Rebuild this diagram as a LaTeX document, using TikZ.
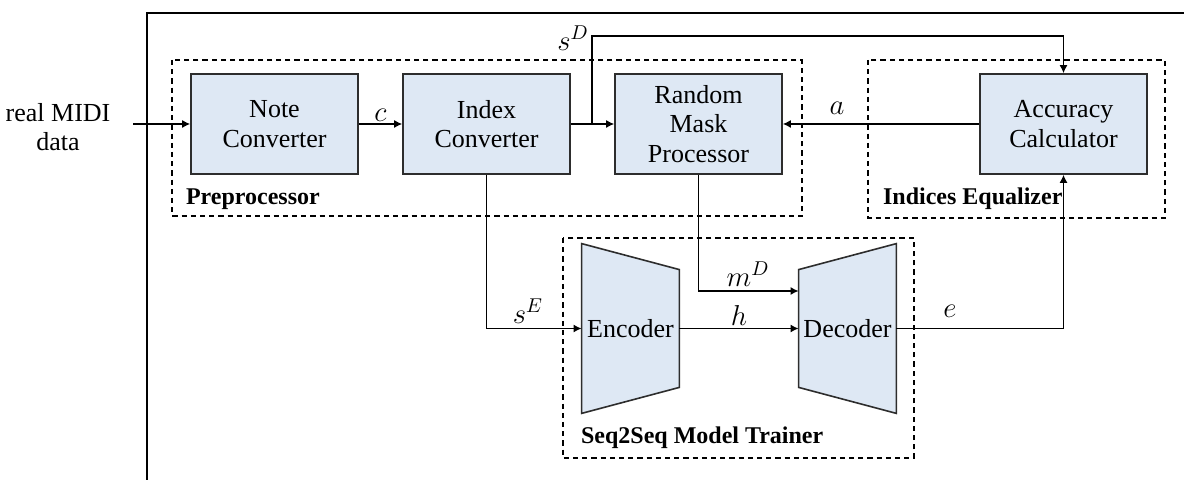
\documentclass[tikz,border=0pt]{standalone}
\usepackage{fontspec}
\setmainfont{Liberation Serif}
\usepackage{tikz}
\usetikzlibrary{arrows.meta, positioning, calc, backgrounds}
\definecolor{blockfill}{RGB}{222,232,244}
\definecolor{blockline}{RGB}{45,45,45}
\tikzset{
  every node/.style={font=\fontsize{13}{14.7}\selectfont}, % text size of all nodes
  arr/.style={-{Latex[length=4pt,width=4pt]}, line width=0.7pt}, % connectors
  block/.style={draw=blockline, fill=blockfill, line width=0.8pt, minimum width=83.5pt, minimum height=50pt, align=center, inner sep=1pt},
  coder/.style={minimum width=48.5pt, minimum height=84.5pt, inner sep=0pt}, % invisible frame of a trapezoid
  coderbody/.style={draw=blockline, fill=blockfill, line width=0.8pt},
  group/.style={dashed, dash pattern=on 2.6pt off 2pt, line width=0.7pt}, % dashed modules
  grouplabel/.style={anchor=west, font=\fontsize{12}{13}\selectfont\bfseries},
  mathlabel/.style={inner sep=1pt, font=\fontsize{14.5}{15}\selectfont},
}
\begin{document}
\begin{tikzpicture}[x=0.5pt, y=-0.5pt]
  \useasboundingbox (0,0) rectangle (1184,480);
  % outer frame
  \draw[line width=1pt] (147,480) -- (147,13) -- (1184,13);

  % modules
  \draw[group] (172,60) rectangle (802,216);
  \node[grouplabel] (prelabel) at (179,199) {Preprocessor};
  \draw[group] (868,60) rectangle (1165,218);
  \node[grouplabel] (eqlabel) at (876,199) {Indices Equalizer};
  \draw[group] (563,238) rectangle (914,458);
  \node[grouplabel] (trainlabel) at (574,438) {Seq2Seq Model Trainer};

  % blocks
  \node[align=center] (midi) at (58,127) {real MIDI\\data};
  \node[block] (note) at (274.5,124) {Note\\Converter};
  \node[block] (index) at (486.5,124) {Index\\Converter};
  \node[block] (mask) at (698.5,124) {Random\\Mask\\Processor};
  \node[block] (acc) at (1063.5,124) {Accuracy\\Calculator};
  \node[coder] (enc) at (630.5,328.5) {Encoder};
  \node[coder] (dec) at (847.5,328.5) {Decoder};
  \begin{scope}[on background layer]
    \filldraw[coderbody] (enc.north west) -- ($(enc.north east)+(0,26)$) -- ($(enc.south east)+(0,-26)$) -- (enc.south west) -- cycle;
    \filldraw[coderbody] ($(dec.north west)+(0,26)$) -- (dec.north east) -- (dec.south east) -- ($(dec.south west)+(0,-26)$) -- cycle;
  \end{scope}

  % connectors
  \coordinate (split) at (592,124);
  \coordinate (sdtop) at (592,36);
  \draw[arr] (midi.east |- note.west) ++(8pt,0) -- (note.west);
  \draw[arr] (note.east) -- node[mathlabel, above] (lc) {$c$} (index.west);
  \draw[arr] (index.east) -- (mask.west);
  \draw[arr] (split) -- (sdtop) -| (acc.north);
  \draw[arr] (acc.west) -- (mask.east);
  \draw[arr] (index.south) |- (enc.west);
  \draw[arr] (mask.south) |- ($(dec.west)+(0,-37.5)$);
  \draw[arr] (enc.east) -- node[mathlabel, above] (lh) {$h$} (dec.west);
  \draw[arr] (dec.east) -| (acc.south);

  % signal names
  \node[mathlabel] (lsd) at (573,38) {$s^D$};
  \node[mathlabel] (la) at (837,108) {$a$};
  \node[mathlabel] (lse) at (528,311) {$s^E$};
  \node[mathlabel] (lmd) at (748,274) {$m^D$};
  \node[mathlabel] (le) at (950,311) {$e$};
\end{tikzpicture}
\end{document}
